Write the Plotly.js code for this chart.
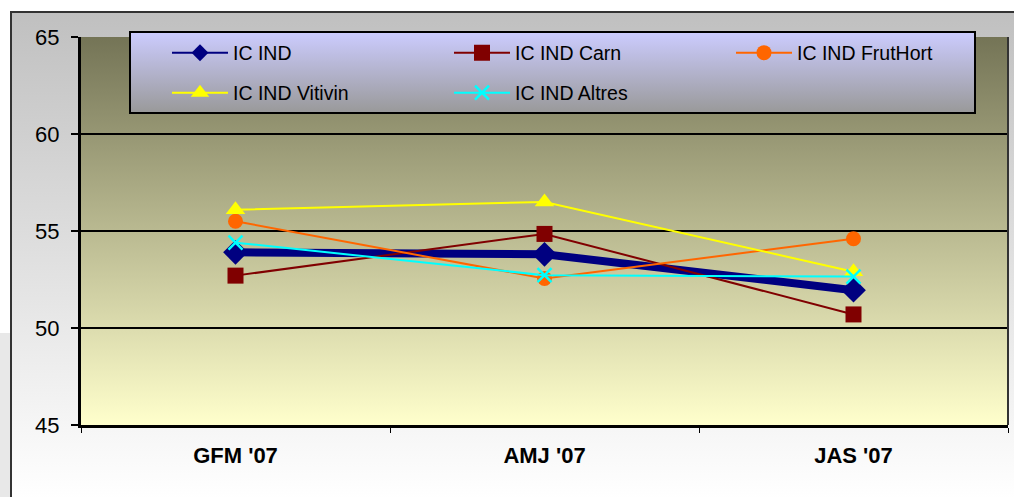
<!DOCTYPE html>
<html>
<head>
<meta charset="utf-8">
<script src="https://cdn.plot.ly/plotly-3.0.1.min.js"></script>
<style>
  html, body { margin: 0; padding: 0; background: #ffffff; }
  #wrap { position: relative; width: 1014px; height: 497px; overflow: hidden; background: #ffffff; }
  #strip { position: absolute; left: 0; top: 333px; width: 10px; height: 164px; background: #e8e8e8; }
  #frame { position: absolute; left: 10px; top: 11px; width: 1020px; height: 500px;
           border-left: 2px solid #333333; border-top: 2px solid #333333;
           background: linear-gradient(to bottom, #c0c0c0 0px, #ffffff 486px); }
  #chart { position: absolute; left: 0; top: 0; width: 1014px; height: 497px; }
</style>
</head>
<body>
<div id="wrap">
  <div id="strip"></div>
  <div id="frame"></div>
  <div id="chart"></div>
</div>
<script>
// ---- data ----
const categories = ["GFM '07", "AMJ '07", "JAS '07"];
const icInd    = [53.9, 53.8, 51.95];
const carn     = [52.7, 54.85, 50.7];
const frutHort = [55.5, 52.55, 54.6];
const vitivin  = [56.1, 56.5, 52.9];
const altres   = [54.4, 52.72, 52.65];
const seriesNames = ["IC IND", "IC IND Carn", "IC IND FrutHort", "IC IND Vitivin", "IC IND Altres"];
const yTicks = [45, 50, 55, 60, 65];

const FONT = "Liberation Sans, Arial, sans-serif";

function gradientSVG(top, bottom) {
  const svg = '<svg xmlns="http://www.w3.org/2000/svg" width="100" height="100" viewBox="0 0 100 100" preserveAspectRatio="none">' +
    '<defs><linearGradient id="g" x1="0" y1="0" x2="0" y2="1">' +
    '<stop offset="0" stop-color="' + top + '"/><stop offset="1" stop-color="' + bottom + '"/>' +
    '</linearGradient></defs><rect x="0" y="0" width="100" height="100" fill="url(#g)"/></svg>';
  return 'data:image/svg+xml;base64,' + btoa(svg);
}

const traces = [
  // legend proxy for IC IND (thin line, hidden under the thick one)
  { x: categories, y: icInd, name: seriesNames[0], type: 'scatter', mode: 'lines+markers',
    line: { color: '#000080', width: 2 },
    marker: { symbol: 'diamond', size: 13, color: '#000080' },
    legend: 'legend', hoverinfo: 'skip' },
  { x: categories, y: icInd, name: seriesNames[0], type: 'scatter', mode: 'lines+markers',
    line: { color: '#000080', width: 8 },
    marker: { symbol: 'diamond', size: 19, color: '#000080' },
    showlegend: false },
  { x: categories, y: carn, name: seriesNames[1], type: 'scatter', mode: 'lines+markers',
    line: { color: '#800000', width: 2 },
    marker: { symbol: 'square', size: 16, color: '#800000' },
    legend: 'legend' },
  { x: categories, y: frutHort, name: seriesNames[2], type: 'scatter', mode: 'lines+markers',
    line: { color: '#FF6600', width: 2 },
    marker: { symbol: 'circle', size: 15, color: '#FF6600' },
    legend: 'legend' },
  { x: categories, y: vitivin, name: seriesNames[3], type: 'scatter', mode: 'lines+markers',
    line: { color: '#FFFF00', width: 2 },
    marker: { symbol: 'triangle-up', size: 17, color: '#FFFF00' },
    legend: 'legend2' },
  { x: categories, y: altres, name: seriesNames[4], type: 'scatter', mode: 'lines+markers',
    line: { color: '#00FFFF', width: 2 },
    marker: { symbol: 'x-thin', size: 14, color: '#00FFFF', line: { color: '#00FFFF', width: 2.5 } },
    legend: 'legend2' }
];

const plotH = 388, plotW = 927;
const legendCommon = {
  orientation: 'h', xanchor: 'left', yanchor: 'middle',
  x: (167 - 81) / plotW,
  bgcolor: 'rgba(0,0,0,0)', borderwidth: 0,
  font: { family: FONT, size: 19.5, color: '#000000' },
  itemwidth: 56, entrywidth: 211, entrywidthmode: 'pixels',
  traceorder: 'normal'
};

const layout = {
  width: 1014, height: 497,
  margin: { l: 81, r: 6, t: 37, b: 72, pad: 0, autoexpand: false },
  paper_bgcolor: 'rgba(0,0,0,0)',
  plot_bgcolor: 'rgba(0,0,0,0)',
  showlegend: true,
  font: { family: FONT, color: '#000000' },
  xaxis: {
    type: 'category', range: [-0.5, 2.5], tickson: 'boundaries',
    ticks: 'outside', ticklen: 5, tickwidth: 1, tickcolor: '#000000',
    showline: true, linecolor: '#000000', linewidth: 3,
    showgrid: false, zeroline: false,
    tickfont: { family: FONT, size: 22, weight: 'bold', color: '#000000' },
    ticklabelstandoff: 9, fixedrange: true
  },
  yaxis: {
    range: [45, 65], tickvals: yTicks, ticktext: yTicks.map(String),
    ticks: 'outside', ticklen: 7, tickwidth: 2, tickcolor: '#000000',
    showline: true, linecolor: '#000000', linewidth: 3,
    showgrid: true, gridcolor: '#000000', gridwidth: 2,
    zeroline: false,
    tickfont: { family: FONT, size: 22, color: '#000000' },
    ticklabelstandoff: 7, fixedrange: true
  },
  legend: Object.assign({}, legendCommon, { y: 1 + (37 - 53) / plotH }),
  legend2: Object.assign({}, legendCommon, { y: 1 + (37 - 93) / plotH }),
  images: [
    { source: gradientSVG('#747456', '#ffffcc'), xref: 'paper', yref: 'paper',
      x: 0, y: 1, sizex: 1, sizey: 1, xanchor: 'left', yanchor: 'top',
      sizing: 'stretch', layer: 'below' },
    { source: gradientSVG('#ccccff', '#999999'), xref: 'paper', yref: 'paper',
      x: (130 - 81) / plotW, y: 1 + (37 - 32) / plotH,
      sizex: (975 - 130) / plotW, sizey: (113 - 32) / plotH,
      xanchor: 'left', yanchor: 'top', sizing: 'stretch', layer: 'above' }
  ],
  shapes: [
    { type: 'line', xref: 'paper', yref: 'paper', x0: 1, x1: 1, y0: 0, y1: 1,
      line: { color: '#333333', width: 2 }, layer: 'above' },
    { type: 'rect', xref: 'paper', yref: 'paper',
      x0: (130 - 81) / plotW, x1: (975 - 81) / plotW,
      y0: 1 + (37 - 113) / plotH, y1: 1 + (37 - 32) / plotH,
      line: { color: '#000000', width: 2 }, fillcolor: 'rgba(0,0,0,0)', layer: 'above' }
  ]
};

Plotly.newPlot('chart', traces, layout, { displayModeBar: false, staticPlot: true });
</script>
</body>
</html>
